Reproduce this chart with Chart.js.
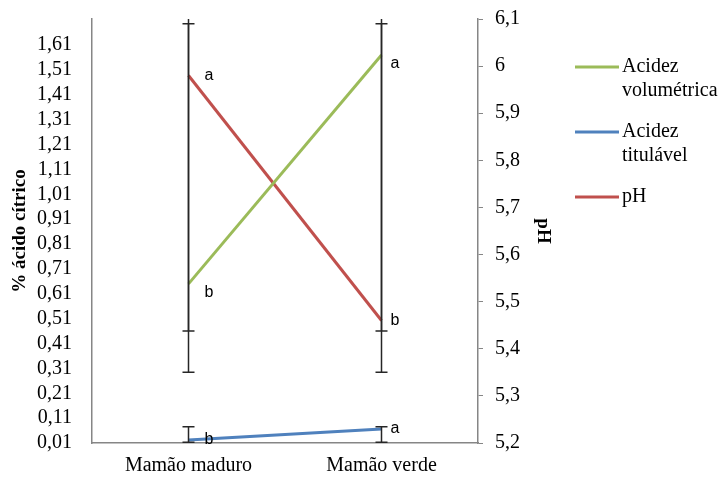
<!DOCTYPE html>
<html>
<head>
<meta charset="utf-8">
<script src="https://cdn.jsdelivr.net/npm/chart.js@4"></script>
<style>
  body { margin: 0; background: #fff; }
  #wrap { width: 725px; height: 478px; }
</style>
</head>
<body>
<div id="wrap"><canvas id="chart" width="725" height="478"></canvas></div>
<script>
// data
const categories = ["Mamão maduro", "Mamão verde"];
const acidezVolumetrica = [0.65, 1.57];
const acidezTitulavel = [0.022, 0.066];
const phValues = [5.98, 5.46];

// error bar ends (low / high)
const volErrLow = [0.46, 0.46];
const volErrHigh = [1.76, 1.76];
const titErrLow = [0.013, 0.013];
const titErrHigh = [0.075, 0.075];
const phErrLow = [5.35, 5.35];
const phErrHigh = [6.09, 6.09];

// letters next to the points
const volLetters = ["b", "a"];
const titLetters = ["b", "a"];
const phLetters = ["a", "b"];

// tick labels
const leftTicks = [0.01, 0.11, 0.21, 0.31, 0.41, 0.51, 0.61, 0.71, 0.81, 0.91, 1.01, 1.11, 1.21, 1.31, 1.41, 1.51, 1.61];
const rightTicks = [5.2, 5.3, 5.4, 5.5, 5.6, 5.7, 5.8, 5.9, 6.0, 6.1];

const serif = "'Liberation Serif', 'Times New Roman', serif";
const axisGray = "#868686";

//error bars + letters
const extrasPlugin = {
    id: "extras",
    afterDatasetsDraw(chart) {
        const ctx = chart.ctx;
        const area = chart.chartArea;
        const x = chart.scales.x;
        chart.data.datasets.forEach((ds, di) => {
            const ys = chart.scales[ds.yAxisID];
            ctx.save();
            ctx.beginPath();
            ctx.rect(area.left, area.top, area.right - area.left, area.bottom - area.top + 1);
            ctx.clip();
            ctx.strokeStyle = "#262626";
            ctx.lineWidth = 1.5;
            ds.data.forEach((v, i) => {
                const px = x.getPixelForValue(i);
                const yLo = ys.getPixelForValue(ds.errLow[i]);
                const yHi = ys.getPixelForValue(ds.errHigh[i]);
                ctx.beginPath();
                ctx.moveTo(px, yLo);
                ctx.lineTo(px, yHi);
                ctx.moveTo(px - 6, yLo);
                ctx.lineTo(px + 6, yLo);
                ctx.moveTo(px - 6, yHi);
                ctx.lineTo(px + 6, yHi);
                ctx.stroke();
            });
            ctx.restore();

            ctx.save();
            ctx.fillStyle = "#000";
            ctx.font = "16px 'Liberation Sans', Arial, sans-serif";
            ctx.textAlign = "left";
            ctx.textBaseline = "middle";
            ds.data.forEach((v, i) => {
                const px = x.getPixelForValue(i);
                const py = ys.getPixelForValue(v);
                const dx = i === 0 ? 16 : 9;
                const dy = ds.letterDy || 0;
                ctx.fillText(ds.letters[i], px + dx, py + dy);
            });
            ctx.restore();
        });
    }
};

//legend at right
const legendPlugin = {
    id: "sideLegend",
    afterDraw(chart) {
        const ctx = chart.ctx;
        const items = [
            { lines: ["Acidez", "volumétrica"], color: chart.data.datasets[0].borderColor, y: 67 },
            { lines: ["Acidez", "titulável"], color: chart.data.datasets[1].borderColor, y: 132 },
            { lines: ["pH"], color: chart.data.datasets[2].borderColor, y: 197 }
        ];
        ctx.save();
        ctx.font = "20px " + serif;
        ctx.textBaseline = "middle";
        ctx.fillStyle = "#000";
        items.forEach(it => {
            ctx.strokeStyle = it.color;
            ctx.lineWidth = 3;
            ctx.beginPath();
            ctx.moveTo(575, it.y);
            ctx.lineTo(619, it.y);
            ctx.stroke();
            it.lines.forEach((t, k) => ctx.fillText(t, 622, it.y + k * 24));
        });
        ctx.restore();
    }
};

// keep the plot box where the reference has it
const pinY = s => { s.paddingTop = 0; s.paddingBottom = 0; };

new Chart(document.getElementById("chart"), {
    type: "line",
    data: {
        labels: categories,
        datasets: [
            { label: "Acidez volumétrica", data: acidezVolumetrica, yAxisID: "y", borderColor: "#9BBB59",
              errLow: volErrLow, errHigh: volErrHigh, letters: volLetters, letterDy: 9 },
            { label: "Acidez titulável", data: acidezTitulavel, yAxisID: "y", borderColor: "#4F81BD",
              errLow: titErrLow, errHigh: titErrHigh, letters: titLetters },
            { label: "pH", data: phValues, yAxisID: "y1", borderColor: "#C0504D",
              errLow: phErrLow, errHigh: phErrHigh, letters: phLetters }
        ].map(d => Object.assign(d, { borderWidth: 3, pointRadius: 0, tension: 0, fill: false }))
    },
    options: {
        responsive: false,
        animation: false,
        layout: { padding: { top: 19, right: 165, bottom: 0, left: 0 } },
        plugins: { legend: { display: false }, tooltip: { enabled: false } },
        scales: {
            x: {
                offset: true,
                grid: { display: false, drawTicks: false },
                border: { color: axisGray, width: 1.5 },
                ticks: { color: "#000", font: { family: serif, size: 20 }, padding: 11, maxRotation: 0 },
                afterFit: s => { s.height = 35; }
            },
            y: {
                position: "left",
                min: 0.01,
                max: 1.715,
                grid: { drawOnChartArea: false, drawTicks: false },
                border: { color: axisGray, width: 1.5 },
                ticks: {
                    color: "#000", font: { family: serif, size: 20 }, padding: 20, autoSkip: false,
                    callback: v => v.toFixed(2).replace(".", ",")
                },
                afterBuildTicks: s => { s.ticks = leftTicks.map(v => ({ value: v })); },
                title: { display: true, text: "% ácido cítrico", color: "#000",
                         font: { family: serif, size: 19, weight: "bold" }, padding: { top: 9, bottom: 0 } },
                afterFit: s => { s.width = 92; pinY(s); }
            },
            y1: {
                position: "right",
                min: 5.2,
                max: 6.1,
                grid: { drawOnChartArea: false, drawTicks: true, tickLength: 5, color: axisGray },
                border: { color: axisGray, width: 1.5 },
                ticks: {
                    color: "#000", font: { family: serif, size: 20 }, padding: 12, autoSkip: false,
                    callback: v => String(Math.round(v * 10) / 10).replace(".", ",")
                },
                afterBuildTicks: s => { s.ticks = rightTicks.map(v => ({ value: v })); },
                title: { display: true, text: "pH", color: "#000",
                         font: { family: serif, size: 19, weight: "bold" }, padding: { top: 6, bottom: 0 } },
                afterFit: s => { s.width = 82; pinY(s); }
            }
        }
    },
    plugins: [extrasPlugin, legendPlugin]
});
</script>
</body>
</html>
